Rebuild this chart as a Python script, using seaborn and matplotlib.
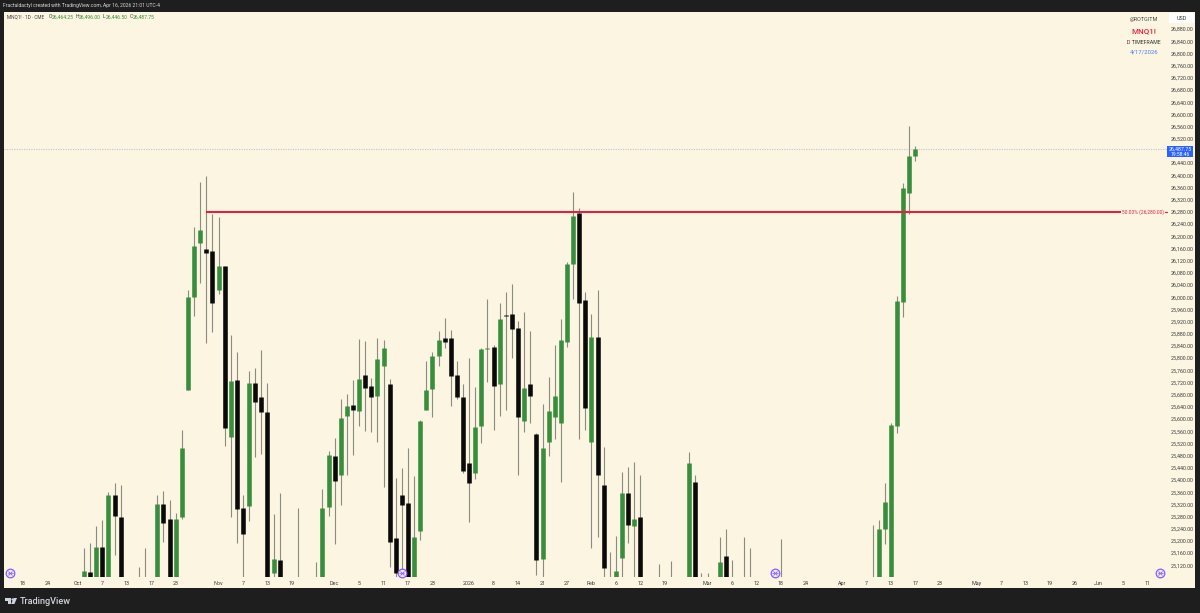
"""
MNQ1! daily candles, redrawn with seaborn line segments
"""

import pandas as pd
import numpy as np
import matplotlib
matplotlib.use('Agg')
import matplotlib.pyplot as plt
from matplotlib.lines import Line2D
from matplotlib.patches import Rectangle, Polygon
import seaborn as sns

# bar number counted in trading days, Oct 2 2025 = 0. Bars that sit fully below
# the pane are left out, bodies cut by the pane bottom are estimated at 25,060
bars = [0, 1, 2, 3, 4, 5, 6, 9, 10, 12,
        13, 14, 15, 16, 17, 18, 19, 20, 21, 22,
        23, 24, 25, 26, 27, 28, 29, 30, 31, 32,
        35, 38, 39, 40, 41, 42, 43, 44, 45, 46,
        47, 48, 49, 50, 51, 52, 53, 54, 55, 56,
        57, 58, 59, 60, 61, 62, 63, 64, 65, 66,
        67, 68, 69, 70, 71, 72, 73, 74, 75, 76,
        77, 78, 79, 80, 81, 82, 83, 84, 85, 86,
        87, 88, 89, 90, 91, 94, 96, 99, 100, 101,
        102, 104, 105, 106, 108, 109, 114, 129, 130, 131,
        132, 133, 134, 135, 136]
opens = [25060, 25099, 25060, 25179, 25060, 25349, 25280, 25050, 25050, 25060,
         25321, 25272, 25060, 25279, 25695, 26000, 26177, 26158, 26153, 26023,
         26103, 25540, 25728, 25307, 25314, 25717, 25672, 25622, 25094, 25138,
         25050, 25050, 25060, 25311, 25479, 25417, 25609, 25646, 25627, 25744,
         25709, 25676, 25773, 25716, 25209, 25351, 25326, 25060, 25232, 25630,
         25697, 25808, 25867, 25865, 25744, 25673, 25455, 25424, 25577, 25830,
         25836, 25716, 25943, 25945, 25898, 25592, 25716, 25551, 25140, 25524,
         25605, 25586, 25854, 26109, 26277, 25991, 25525, 25869, 25385, 25050,
         25060, 25143, 25357, 25249, 25277, 25050, 25050, 25060, 25394, 25050,
         25050, 25060, 25149, 25050, 25050, 25050, 25050, 25050, 25060, 25239,
         25060, 25577, 25983, 26343, 26464.25]
highs = [25176, 25192, 25249, 25268, 25359, 25389, 25383, 25113, 25176, 25350,
         25364, 25334, 25290, 25564, 26023, 26229, 26377, 26397, 26272, 26264,
         26103, 25875, 25821, 25350, 25757, 25766, 25826, 25717, 25288, 25357,
         25307, 25130, 25370, 25495, 25538, 25666, 25682, 25728, 25863, 25857,
         25734, 25867, 25858, 25730, 25405, 25440, 25504, 25413, 25597, 25790,
         25819, 25889, 25932, 25891, 25790, 25715, 25799, 25704, 25834, 25994,
         25843, 25982, 26016, 26043, 25921, 25951, 25889, 25554, 25649, 25737,
         25843, 25929, 26116, 26346, 26291, 26016, 25945, 26024, 25509, 25164,
         25215, 25425, 25442, 25460, 25416, 25123, 25135, 25491, 25415, 25093,
         25095, 25212, 25238, 25137, 25212, 25176, 25206, 25252, 25268, 25390,
         25587, 26004, 26375, 26561, 26496]
lows = [25040, 25040, 25040, 25040, 25040, 25154, 25040, 25050, 25050, 25040,
        25197, 25040, 25040, 25273, 25695, 25939, 26045, 25850, 25884, 26010,
        25512, 25278, 25193, 25040, 25264, 25475, 25485, 25040, 25060, 25040,
        25050, 25050, 25040, 25282, 25189, 25319, 25416, 25483, 25576, 25561,
        25556, 25523, 25378, 25113, 25060, 25060, 25040, 25040, 25204, 25628,
        25605, 25774, 25832, 25643, 25666, 25423, 25261, 25402, 25522, 25722,
        25565, 25611, 25629, 25800, 25417, 25558, 25586, 25089, 25060, 25478,
        25535, 25394, 25837, 25994, 25533, 25564, 25176, 25214, 25060, 25050,
        25040, 25060, 25192, 25060, 25040, 25050, 25050, 25040, 25040, 25050,
        25050, 25040, 25040, 25050, 25050, 25050, 25050, 25050, 25040, 25190,
        25040, 25555, 25934, 26274, 26446.5]
closes = [25100, 25060, 25179, 25060, 25349, 25281, 25060, 25050, 25050, 25321,
          25260, 25060, 25272, 25506, 26001, 26169, 26221, 26146, 25981, 26101,
          25571, 25726, 25304, 25222, 25717, 25655, 25622, 25082, 25140, 25060,
          25050, 25050, 25309, 25481, 25395, 25603, 25642, 25628, 25731, 25703,
          25672, 25796, 25832, 25197, 25095, 25317, 25060, 25213, 25593, 25696,
          25808, 25858, 25853, 25740, 25672, 25430, 25389, 25574, 25829, 25833,
          25707, 25927, 25939, 25894, 25605, 25702, 25676, 25137, 25504, 25625,
          25674, 25858, 26108, 26266, 25980, 25635, 25869, 25416, 25112, 25050,
          25101, 25357, 25252, 25273, 25060, 25050, 25050, 25456, 25060, 25050,
          25050, 25131, 25060, 25050, 25050, 25050, 25050, 25050, 25238, 25327,
          25580, 25987, 26358, 26463, 26487.75]

tick_bars = [-10, -6, -1, 3, 7, 11, 15, 22, 26, 30, 34, 41, 45, 49, 53, 57, 63, 67, 71, 75,
             79, 83, 87, 91, 95, 102, 106, 110, 114, 118, 124, 128, 132, 136, 140,
             146, 150, 154, 158, 162, 166, 170, 174]
tick_labels = ['18', '24', 'Oct', '7', '13', '17', '23', 'Nov', '7', '13', '19', 'Dec', '5', '11',
               '17', '23', '2026', '8', '14', '21', '27', 'Feb', '6', '12', '19', 'Mar', '6', '12',
               '18', '24', 'Apr', '7', '13', '17', '23', 'May', '7', '13', '19', '26', 'Jun', '5', '11']
price_ticks = list(range(25120, 26881, 40))

level_price = 26280
last_price = 26487.75
level_start_bar = 20

CREAM = '#fbf5e2'
DARK = '#1e1e1e'
GREEN = '#388e3c'
BLACK = '#0a0a0a'
WICK = '#8c8c7e'
RED = '#ee1c3c'
BLUE = '#2962ff'
PURPLE = '#8a5cff'
TEXT = '#3a3a3a'

W, H = 1200, 613


def fx(px):
    return px / W


def fy(py):
    return 1 - py / H


def px_text(fig, x, y, s, size=3.9, color=TEXT, ha='left', **kw):
    """Figure text placed by pixel position, y measured from the top"""
    fig.text(fx(x), fy(y), s, fontsize=size, color=color, ha=ha, va='center', **kw)


def draw_session_icon(fig, x, y):
    fig.add_artist(Line2D([fx(x)], [fy(y)], marker='o', ms=6.2, mfc='#f3eefb', mec=PURPLE,
                          mew=0.9, transform=fig.transFigure))
    fig.add_artist(Line2D([fx(x)], [fy(y)], marker='x', ms=3.4, mec=PURPLE, mew=0.6,
                          transform=fig.transFigure))
    fig.add_artist(Line2D([fx(x - 2.6), fx(x + 2.6)], [fy(y), fy(y)], color=PURPLE, lw=0.5,
                          transform=fig.transFigure))


def draw_logo(fig):
    # small TradingView mark, T + dot + slanted stroke
    col = '#d1d4dc'
    pts = [[(5, 598), (11.2, 598), (11.2, 604), (8, 604), (8, 600.6), (5, 600.6)],
           [(13.6, 598), (17, 598), (14.4, 604), (11.2, 604)]]
    for poly in pts:
        fig.add_artist(Polygon([(fx(a), fy(b)) for a, b in poly], closed=True, fc=col, ec='none',
                               transform=fig.transFigure))
    fig.add_artist(Line2D([fx(12.3)], [fy(599.2)], marker='o', ms=1.6, mfc=col, mec='none',
                          transform=fig.transFigure))
    px_text(fig, 19.5, 601, 'TradingView', size=6.6, color=col, fontweight='medium')


def main():
    sns.set_style('white')
    plt.rcParams['font.family'] = ['Roboto', 'DejaVu Sans']

    candles = pd.DataFrame({'bar': bars, 'open': opens, 'high': highs,
                            'low': lows, 'close': closes})
    candles['side'] = np.where(candles['close'] >= candles['open'], 'up', 'down')
    wicks = candles.melt(id_vars='bar', value_vars=['low', 'high'], value_name='price')
    bodies = candles.melt(id_vars=['bar', 'side'], value_vars=['open', 'close'], value_name='price')

    fig = plt.figure(figsize=(12, 6.13), dpi=100, facecolor=DARK)
    # cream board behind the pane, price scale and time scale
    fig.add_artist(Rectangle((fx(4), fy(588)), 1191 / W, 576 / H, fc=CREAM, ec='none',
                             transform=fig.transFigure, zorder=-1))

    ax = fig.add_axes([fx(4), fy(577), 1164 / W, 565 / H])
    ax.set_facecolor(CREAM)

    # last price dotted line first, candles cover it
    ax.axhline(last_price, color='#bcc6d6', lw=0.8, ls=(0, (1, 1.2)), zorder=1)

    sns.lineplot(data=wicks, x='bar', y='price', units='bar', estimator=None, sort=False,
                 color=WICK, lw=0.8, solid_capstyle='butt', legend=False, ax=ax, zorder=2)
    sns.lineplot(data=bodies, x='bar', y='price', hue='side', units='bar', estimator=None, sort=False,
                 palette={'up': GREEN, 'down': BLACK}, lw=3.3, solid_capstyle='butt',
                 legend=False, ax=ax, zorder=3)

    # 50% level, stops where its label starts
    level_end_bar = (1120.7 - 84) / 6.113
    ax.plot([level_start_bar, level_end_bar], [level_price, level_price], color=RED, lw=1.45,
            solid_capstyle='butt', zorder=4)

    ax.set_xlim(-13.09, 177.32)
    ax.set_ylim(25081.5, 26935.8)
    ax.set_xlabel('')
    ax.set_ylabel('')
    ax.set_xticks(tick_bars, tick_labels)
    ax.set_yticks(price_ticks, [f'{p:,.2f}' for p in price_ticks])
    ax.yaxis.tick_right()
    ax.tick_params(axis='x', length=0, pad=2.6, labelsize=3.9, colors=TEXT)
    ax.tick_params(axis='y', length=0, pad=2.2, labelsize=3.8, colors=TEXT)
    ax.grid(False)
    sns.despine(ax=ax, left=True, right=True, top=True, bottom=True)

    # header strip and ohlc legend
    px_text(fig, 3, 5.5, 'Fractaldactyl created with TradingView.com, Apr 16, 2026 21:01 UTC-4',
            size=3.6, color='#d8d8d8')
    px_text(fig, 7.3, 16.8, 'MNQ1! · 1D · CME', size=3.4)
    for lab, lx, val, vx in [('O', 48.7, '26,464.25', 52), ('H', 75.7, '26,496.00', 79),
                             ('L', 103, '26,446.50', 106.3), ('C', 129.3, '26,487.75', 132.8)]:
        px_text(fig, lx, 16.8, lab, size=3.6)
        px_text(fig, vx, 16.8, val, size=3.6, color=GREEN)

    # watermark block
    px_text(fig, 1144, 19.5, '@ROTGITM', size=3.9, color='#444444', ha='center')
    px_text(fig, 1144, 31.3, 'MNQ1!', size=5.8, color=RED, ha='center', fontweight='medium')
    px_text(fig, 1144, 43, 'D TIMEFRAME', size=3.8, color='#333333', ha='center')
    px_text(fig, 1144, 52.4, '4/17/2026', size=4.3, color='#4a7cf0', ha='center')

    # currency box
    fig.add_artist(Rectangle((fx(1169), fy(22.7)), 25 / W, 9.4 / H, fc='white', ec='none',
                             transform=fig.transFigure, zorder=5))
    px_text(fig, 1176.5, 18, 'USD', size=3.9, color='#333333', zorder=6)

    # last price tag
    fig.add_artist(Rectangle((fx(1167.3), fy(157.3)), 26 / W, 11.6 / H, fc=BLUE, ec='none',
                             transform=fig.transFigure, zorder=5))
    px_text(fig, 1180.3, 148.7, '26,487.75', size=3.8, color='white', ha='center', zorder=6)
    px_text(fig, 1180.3, 154.3, '19:58:46', size=3.6, color='white', ha='center', zorder=6)

    # level label
    px_text(fig, 1142.6, 212, '50.00% (26,280.00)', size=3.5, color=RED, ha='center', zorder=6)
    fig.add_artist(Line2D([fx(1165), fx(1167)], [fy(212), fy(212)], color=RED, lw=0.9,
                          transform=fig.transFigure))

    for x_icon in [10.3, 401.7, 775, 1160.3]:
        draw_session_icon(fig, x_icon, 572.6)

    draw_logo(fig)

    fig.savefig('out.png', dpi=100, facecolor=DARK)
    plt.close(fig)


if __name__ == "__main__":
    main()
